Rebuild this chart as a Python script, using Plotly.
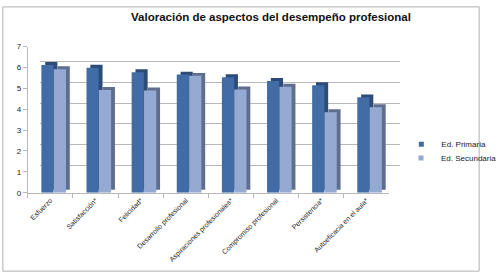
import plotly.graph_objects as go

categories = ["Esfuerzo", "Satisfacción*", "Felicidad*", "Desarrollo profesional",
              "Aspiraciones profesionales*", "Compromiso profesional", "Persistencia*",
              "Autoeficacia en el aula*"]
primaria = [6.12, 5.99, 5.77, 5.66, 5.53, 5.35, 5.15, 4.57]
secundaria = [5.92, 4.92, 4.90, 5.60, 4.95, 5.08, 3.86, 4.10]
series_names = ["Ed. Primaria", "Ed. Secundaria"]
y_ticks = [0, 1, 2, 3, 4, 5, 6, 7]

W, H = 502, 280
FONT = "Liberation Sans, Arial"

def px_x(a, b):
    return [a / W, b / W]

def px_y(top, bottom):
    return [1 - bottom / H, 1 - top / H]

front_col = ["#416CA6", "#95AAD3"]
side_col = ["#2D4B77", "#5F6E8C"]
offsets = [-0.20, 0.075]
bw = 0.27
dx = 0.085   # depth shift (category units)
dy = 0.14    # depth shift (value units)

fig = go.Figure()
# back wall gridlines subplot
fig.add_trace(go.Scatter(x=[0], y=[0], mode="markers", marker=dict(opacity=0),
                         showlegend=False, hoverinfo="skip", xaxis="x", yaxis="y"))

for vals, name, fc, sc, off in zip([primaria, secundaria], series_names, front_col, side_col, offsets):
    fig.add_trace(go.Bar(x=categories, y=vals, base=dy, width=bw, offset=off + dx,
                         marker=dict(color=sc, line=dict(width=0)), showlegend=False,
                         hoverinfo="skip", xaxis="x2", yaxis="y2"))
    fig.add_trace(go.Bar(x=categories, y=vals, width=bw, offset=off, name=name,
                         marker=dict(color=fc, line=dict(width=0)), showlegend=False,
                         xaxis="x2", yaxis="y2"))

# legend entries (small square markers, like the reference), one legend each
for name, fc, lg in zip(series_names, front_col, ["legend", "legend2"]):
    fig.add_trace(go.Scatter(x=[None], y=[None], mode="markers", name=name, legend=lg,
                             marker=dict(symbol="square", size=5, color=fc),
                             xaxis="x2", yaxis="y2"))

legend_common = dict(xanchor="left", yanchor="middle",
                     font=dict(size=8, color="#222222", family=FONT),
                     itemwidth=30, bgcolor="rgba(0,0,0,0)")

fig.update_layout(
    width=W, height=H,
    margin=dict(l=0, r=0, t=0, b=0),
    paper_bgcolor="white", plot_bgcolor="rgba(0,0,0,0)",
    barmode="overlay",
    font=dict(family=FONT, size=8, color="#333333"),
    title=dict(text="<b>Valoración de aspectos del desempeño profesional</b>",
               x=271 / W, xanchor="center", y=1 - 17 / H, yanchor="middle",
               font=dict(family=FONT, size=11.5, color="#111111")),
    xaxis=dict(domain=px_x(42, 417), range=[0, 1], showgrid=False, showticklabels=False,
               zeroline=False, showline=False, ticks=""),
    yaxis=dict(domain=px_y(37.7, 188.7), range=[0, 7], tickvals=y_ticks, showgrid=True,
               gridcolor="#b8b8b8", gridwidth=1, showticklabels=False, zeroline=False,
               showline=False, ticks=""),
    xaxis2=dict(domain=px_x(29, 405), anchor="y2", range=[-0.5, 7.5], type="category",
                showgrid=False, showline=True, linecolor="#b8b8b8", linewidth=1,
                ticks="outside", tickson="boundaries", ticklen=4, tickcolor="#b8b8b8",
                tickangle=-45, tickfont=dict(size=7, color="#222222", family=FONT)),
    yaxis2=dict(domain=px_y(44, 195), anchor="x2", range=[0, 7], tickvals=y_ticks,
                showgrid=False, zeroline=False, showline=True, linecolor="#b8b8b8",
                linewidth=1, ticks="outside", ticklen=4, tickcolor="#b8b8b8",
                tickfont=dict(size=8, color="#222222", family=FONT)),
    legend=dict(x=418 / W, y=1 - 145 / H, **legend_common),
    legend2=dict(x=418 / W, y=1 - 159 / H, **legend_common),
    shapes=[dict(type="rect", xref="paper", yref="paper",
                 x0=3 / W, x1=499 / W, y0=1 - 276 / H, y1=1 - 3 / H,
                 line=dict(color="#b0b0b0", width=1), fillcolor="rgba(0,0,0,0)", layer="below")],
)

fig.write_html("out.html")
